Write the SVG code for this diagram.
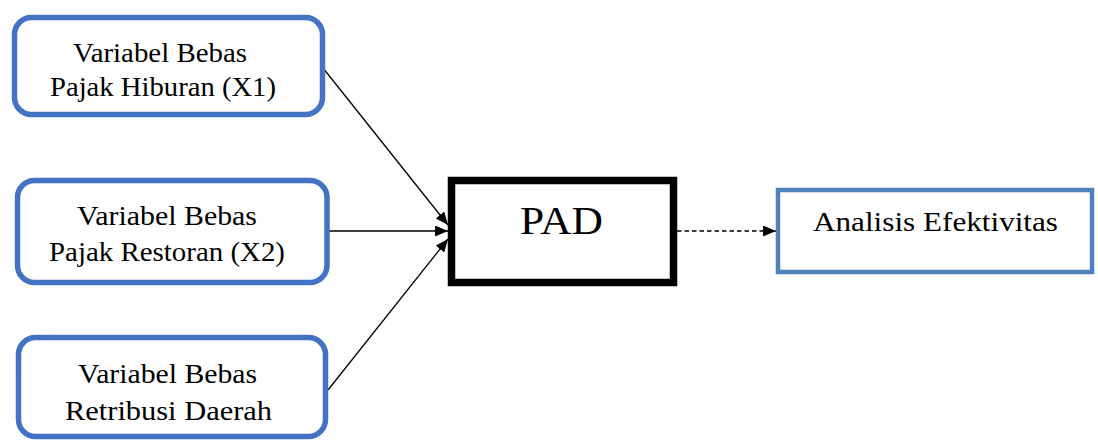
<svg xmlns="http://www.w3.org/2000/svg" width="1098" height="441" viewBox="0 0 1098 441">
<style>
.var{fill:#fff;stroke:#4472C4;stroke-width:5.5}
.t{font-family:"Liberation Serif","Times New Roman",serif;fill:#000;font-size:27px}
.conn{stroke:#000;stroke-width:1.3;fill:none}
</style>
<defs>
<marker id="ah" viewBox="0 0 13 11" refX="13" refY="5.5" markerWidth="13" markerHeight="11" markerUnits="userSpaceOnUse" orient="auto">
<path d="M0,0 L13,5.5 L0,11 Z" fill="#000"/>
</marker>
</defs>
<rect width="1098" height="441" fill="#fff"/>
<g id="connectors">
<line class="conn" x1="323" y1="68" x2="448" y2="225" marker-end="url(#ah)"/>
<line class="conn" x1="327" y1="231" x2="448" y2="231" marker-end="url(#ah)"/>
<line class="conn" x1="328" y1="390" x2="448" y2="239" marker-end="url(#ah)"/>
<line class="conn" x1="677" y1="231" x2="776" y2="231" stroke-dasharray="4.5,3" marker-end="url(#ah)"/>
</g>
<g id="node-x1">
<rect class="var" x="14.5" y="17.5" width="308" height="97" rx="17"/>
<text class="t" x="73" y="62" textLength="174" lengthAdjust="spacingAndGlyphs">Variabel Bebas</text>
<text class="t" x="50" y="96" textLength="226" lengthAdjust="spacingAndGlyphs">Pajak Hiburan (X1)</text>
</g>
<g id="node-x2">
<rect class="var" x="17.5" y="180.5" width="309.5" height="102" rx="17"/>
<text class="t" x="77" y="225" textLength="180" lengthAdjust="spacingAndGlyphs">Variabel Bebas</text>
<text class="t" x="49" y="261" textLength="236" lengthAdjust="spacingAndGlyphs">Pajak Restoran (X2)</text>
</g>
<g id="node-x3">
<rect class="var" x="18.5" y="337.5" width="307" height="99" rx="17"/>
<text class="t" x="78" y="383" textLength="179" lengthAdjust="spacingAndGlyphs">Variabel Bebas</text>
<text class="t" x="65" y="420" textLength="207" lengthAdjust="spacingAndGlyphs">Retribusi Daerah</text>
</g>
<g id="node-pad">
<rect x="451.5" y="180.5" width="222" height="102" fill="#fff" stroke="#000" stroke-width="7.5"/>
<text class="t" x="520" y="234" style="font-size:41px" textLength="83" lengthAdjust="spacingAndGlyphs">PAD</text>
</g>
<g id="node-analisis">
<rect x="778" y="190" width="314" height="82" fill="#fff" stroke="#4F81BD" stroke-width="4.5"/>
<text class="t" x="813" y="231" style="font-size:28px" textLength="245" lengthAdjust="spacingAndGlyphs">Analisis Efektivitas</text>
</g>
</svg>
